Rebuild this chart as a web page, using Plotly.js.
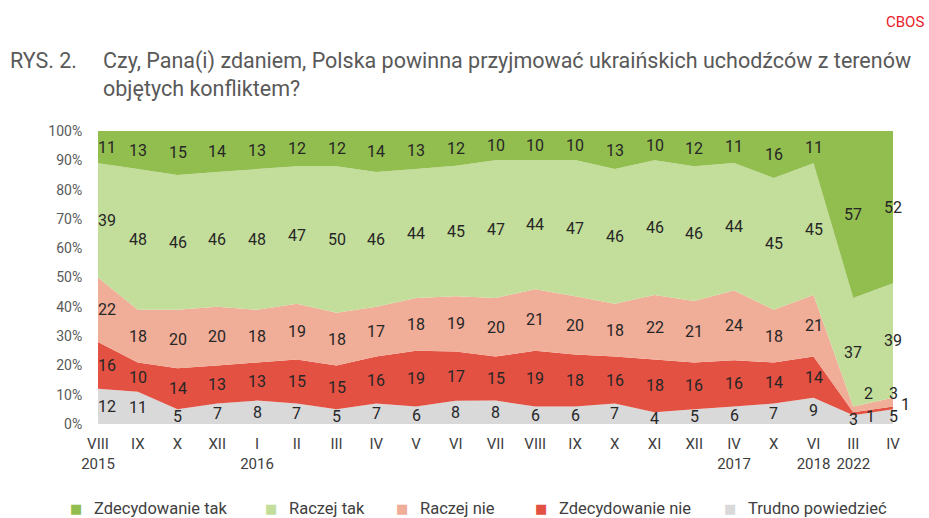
<!DOCTYPE html>
<html><head><meta charset="utf-8">
<script src="https://cdn.plot.ly/plotly-3.0.1.min.js"></script>
<style>body{margin:0;background:#fff}#chart{width:929px;height:518px}</style>
</head><body><div id="chart"></div>
<script>
const months = ["VIII","IX","X","XII","I","II","III","IV","V","VI","VII","VIII","IX","X","XI","XII","IV","X","VI","III","IV"];
const years = ["2015","","","","2016","","","","","","","","","","","","2017","","2018","2022",""];
const zdecTak = [11,13,15,14,13,12,12,14,13,12,10,10,10,13,10,12,11,16,11,57,52];
const raczejTak = [39,48,46,46,48,47,50,46,44,45,47,44,47,46,46,46,44,45,45,37,39];
const raczejNie = [22,18,20,20,18,19,18,17,18,19,20,21,20,18,22,21,24,18,21,2,3];
const zdecNie = [16,10,14,13,13,15,15,16,19,17,15,19,18,16,18,16,16,14,14,1,1];
const trudno = [12,11,5,7,8,7,5,7,6,8,8,6,6,7,4,5,6,7,9,3,5];
const seriesNames = ["Trudno powiedzieć","Zdecydowanie nie","Raczej nie","Raczej tak","Zdecydowanie tak"];
const yTicks = [0,10,20,30,40,50,60,70,80,90,100];

const series = [trudno, zdecNie, raczejNie, raczejTak, zdecTak];
const colors = ["#D9D9D9","#E35142","#F0AD97","#C3DE9B","#92BE4F"];
const xs = months.map((m,i)=>i);

const traces = series.map((s,k)=>({
  x: xs, y: s, name: seriesNames[k], type:'scatter', mode:'none',
  stackgroup:'one', groupnorm:'percent', fillcolor: colors[k],
  line:{width:0}, hoverinfo:'skip', showlegend:false
}));

const annotations = [];
const shifts = {
  "1_19":[17,-3], "2_19":[15,16],
  "1_20":[12,3], "2_20":[0,9]
};
xs.forEach(j=>{
  const tot = series.reduce((a,s)=>a+s[j],0);
  let base = 0;
  series.forEach((s,k)=>{
    const v = s[j]/tot*100;
    const mid = base + v/2;
    base += v;
    let xsft = j===0 ? 9 : 0, ysft = 0;
    const key = k+"_"+j;
    if (shifts[key]) { xsft = shifts[key][0]; ysft = shifts[key][1]; }
    annotations.push({x:j, y:mid, xref:'x', yref:'y', text:String(s[j]), showarrow:false,
      xshift:xsft, yshift:ysft, font:{family:'Roboto', size:16, color:'#262626'}});
  });
});

const pl = 98, pr = 893, pt = 131, pb = 424;
const px = v => (v - pl)/(pr - pl);
const py = v => (pb - v)/(pb - pt);

annotations.push({xref:'paper', yref:'paper', x:px(8), y:py(46), xanchor:'left', yanchor:'top',
  text:'RYS. 2.', showarrow:false, align:'left', font:{family:'Roboto', size:21.5, color:'#595959'}});
annotations.push({xref:'paper', yref:'paper', x:px(101), y:py(46), xanchor:'left', yanchor:'top',
  text:'Czy, Pana(i) zdaniem, Polska powinna przyjmować ukraińskich uchodźców z terenów<br>objętych konfliktem?',
  showarrow:false, align:'left', font:{family:'Roboto', size:21.5, color:'#595959'}});
annotations.push({xref:'paper', yref:'paper', x:px(926), y:py(22), xanchor:'right', yanchor:'middle',
  text:'CBOS', showarrow:false, font:{family:'Roboto', size:15, color:'#E8202A'}});

// manual legend
const legendOrder = [4,3,2,1,0];
const legendTextX = [92, 287, 418, 557, 746];
legendOrder.forEach((k,i)=>{
  annotations.push({xref:'paper', yref:'paper', x:px(legendTextX[i]-16), y:py(508), xanchor:'center', yanchor:'middle',
    text:'■', showarrow:false, font:{family:'DejaVu Sans', size:13, color:colors[k]}});
  annotations.push({xref:'paper', yref:'paper', x:px(legendTextX[i]), y:py(508), xanchor:'left', yanchor:'middle',
    text:seriesNames[k], showarrow:false, font:{family:'Roboto', size:16.5, color:'#404040'}});
});

const layout = {
  width:929, height:518,
  margin:{l:pl, r:929-pr, t:pt, b:518-pb},
  paper_bgcolor:'#fff', plot_bgcolor:'#fff',
  showlegend:false,
  xaxis:{range:[0,20], tickmode:'array', tickvals:xs, ticktext:months.map((m,i)=>m+'<br>'+years[i]),
    showgrid:false, zeroline:false, showline:false, ticks:'outside', ticklen:6, tickcolor:'rgba(0,0,0,0)',
    automargin:false,
    tickfont:{family:'Roboto', size:15, color:'#404040'}, fixedrange:true},
  yaxis:{range:[0,100], tickmode:'array', tickvals:yTicks, ticktext:yTicks.map(v=>v+'%'),
    showgrid:false, zeroline:false, showline:false, ticks:'outside', ticklen:12, tickcolor:'rgba(0,0,0,0)',
    automargin:false,
    tickfont:{family:'Roboto', size:14, color:'#595959'}, fixedrange:true},
  annotations: annotations
};
Plotly.newPlot('chart', traces, layout, {displayModeBar:false, staticPlot:true});
</script></body></html>
